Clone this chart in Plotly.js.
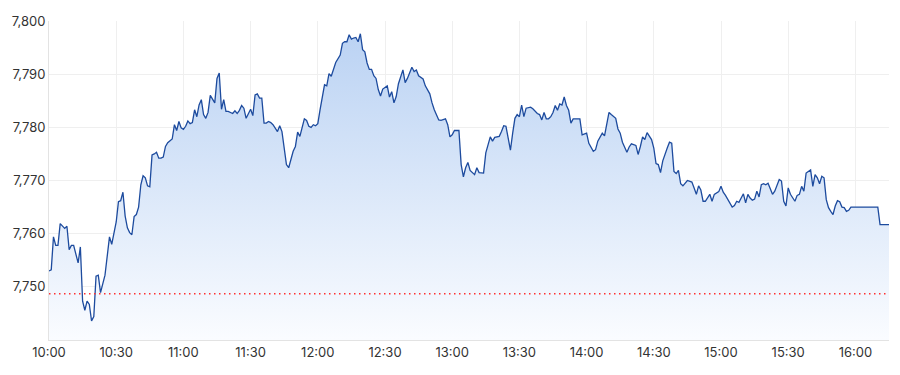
<!DOCTYPE html>
<html>
<head>
<meta charset="utf-8">
<script src="https://cdn.plot.ly/plotly-3.0.1.min.js"></script>
<style>
  html, body { margin: 0; padding: 0; background: #ffffff; }
  #chart { width: 900px; height: 375px; }
</style>
</head>
<body>
<div id="chart"></div>
<script>
const sessionDate = '2024-01-02';

const times = [
"10:00","10:01","10:02","10:03","10:04","10:05","10:07","10:08","10:09","10:10","10:11","10:13","10:14","10:15","10:16","10:17","10:18","10:19","10:20","10:21","10:22","10:23","10:25","10:27","10:28",
"10:30","10:31","10:32","10:33","10:34","10:35","10:36","10:37","10:38","10:39","10:40","10:41","10:42","10:43","10:44","10:45","10:46","10:47","10:48","10:49","10:50","10:51","10:52","10:53","10:54","10:55","10:56","10:57","10:58","10:59",
"11:00","11:01","11:02","11:03","11:04","11:05","11:06","11:07","11:08","11:09","11:10","11:11","11:12","11:13","11:14","11:15","11:16","11:17","11:18","11:19","11:20","11:22","11:23","11:24","11:25","11:26","11:27","11:28","11:29",
"11:30","11:31","11:32","11:33","11:34","11:35","11:36","11:37","11:38","11:39","11:40","11:42","11:43","11:44","11:45","11:46","11:47","11:48","11:49","11:50","11:51","11:52","11:54","11:55","11:56","11:57","11:58","11:59",
"12:00","12:01","12:02","12:03","12:04","12:05","12:06","12:07","12:08","12:10","12:11","12:12","12:13","12:14","12:15","12:16","12:17","12:18","12:19","12:20","12:21","12:22","12:23","12:24","12:25","12:26","12:27","12:28","12:29",
"12:31","12:32","12:33","12:34","12:35","12:36","12:38","12:39","12:40","12:42","12:43","12:44","12:45","12:47","12:48","12:50","12:51","12:52","12:54","12:55","12:57","12:58","12:59",
"13:00","13:01","13:03","13:04","13:05","13:06","13:07","13:08","13:09","13:10","13:11","13:12","13:14","13:15","13:17","13:18","13:19","13:21","13:22","13:23","13:24","13:25","13:26","13:27","13:28","13:29",
"13:30","13:31","13:32","13:33","13:35","13:36","13:38","13:39","13:40","13:41","13:42","13:43","13:44","13:45","13:46","13:47","13:48","13:49","13:50","13:51","13:52","13:53","13:54","13:57","13:58",
"14:00","14:01","14:03","14:04","14:05","14:07","14:08","14:10","14:11","14:13","14:14","14:15","14:16","14:18","14:19","14:20","14:22","14:23","14:24","14:25","14:26","14:27","14:29",
"14:30","14:31","14:32","14:33","14:34","14:36","14:37","14:38","14:39","14:40","14:41","14:42","14:43","14:45","14:47","14:48","14:49","14:50","14:51","14:52","14:53","14:55","14:56","14:57","14:59",
"15:00","15:01","15:02","15:04","15:05","15:06","15:07","15:08","15:09","15:10","15:11","15:12","15:13","15:14","15:15","15:16","15:17","15:18","15:19","15:20","15:21","15:22","15:23","15:24","15:25","15:26","15:27","15:28","15:29",
"15:30","15:31","15:33","15:34","15:35","15:36","15:37","15:38","15:39","15:40","15:41","15:42","15:43","15:44","15:45","15:46","15:47","15:48","15:49","15:50","15:51","15:52","15:53","15:54","15:55","15:56","15:57","15:58",
"16:10","16:11","16:15"
];

const prices = [
7753.0,7753.2,7759.4,7757.8,7757.8,7761.9,7761.0,7761.4,7757.0,7757.8,7757.8,7754.5,7757.5,7747.3,7745.6,7747.3,7746.7,7743.6,7744.4,7752.0,7752.2,7748.9,7752.2,7759.4,7758.0,
7762.2,7766.0,7766.2,7767.8,7763.3,7761.1,7760.2,7759.8,7763.2,7763.6,7765.0,7769.2,7770.9,7770.5,7769.0,7768.8,7774.8,7775.0,7775.3,7774.2,7774.2,7774.4,7776.4,7777.1,7777.4,7777.8,7780.5,7779.4,7781.1,7779.9,
7779.6,7780.2,7781.2,7780.7,7780.9,7783.3,7782.0,7784.2,7785.2,7782.4,7781.7,7782.8,7786.0,7785.2,7784.6,7789.2,7790.2,7783.4,7785.2,7783.0,7783.0,7782.6,7783.1,7782.6,7783.2,7784.1,7783.6,7781.7,7782.7,
7783.4,7782.2,7786.1,7786.3,7785.5,7785.5,7780.8,7780.8,7781.1,7780.9,7780.5,7779.2,7780.3,7779.2,7776.4,7773.0,7772.4,7773.9,7775.5,7776.4,7779.1,7778.3,7781.6,7781.3,7780.2,7780.0,7780.5,7780.3,
7780.7,7783.3,7785.8,7788.0,7787.8,7790.1,7789.6,7790.8,7792.2,7793.6,7795.8,7796.1,7796.1,7797.4,7796.6,7796.8,7796.9,7796.1,7797.6,7794.6,7794.2,7792.1,7790.9,7790.9,7789.7,7789.2,7787.1,7785.9,7787.2,
7787.8,7785.7,7786.7,7784.6,7785.8,7788.2,7790.8,7788.4,7789.2,7791.3,7790.5,7790.8,7789.7,7789.1,7787.8,7786.3,7784.6,7783.3,7781.4,7781.3,7781.6,7780.5,7778.2,
7778.6,7779.4,7779.4,7773.0,7770.7,7772.4,7773.4,7771.9,7771.4,7771.1,7772.4,7771.5,7771.4,7775.2,7778.2,7777.4,7778.1,7778.3,7779.2,7780.3,7780.2,7777.7,7775.7,7778.9,7781.7,7782.4,
7782.0,7784.2,7782.0,7783.6,7783.8,7783.5,7782.6,7782.4,7781.4,7782.8,7781.6,7781.6,7782.0,7782.8,7784.1,7783.2,7784.4,7784.2,7785.7,7784.1,7783.2,7780.8,7781.6,7781.6,7778.6,
7778.9,7777.0,7775.5,7775.8,7777.4,7778.9,7778.4,7782.8,7782.4,7781.7,7779.7,7778.9,7777.2,7775.3,7776.3,7776.9,7776.6,7774.9,7776.4,7778.2,7777.7,7779.0,7777.7,
7776.1,7773.2,7773.0,7771.5,7773.7,7776.1,7777.2,7777.0,7771.7,7771.3,7771.9,7769.4,7769.0,7770.0,7769.7,7768.6,7767.4,7769.0,7768.2,7766.1,7766.1,7767.4,7766.1,7767.4,7767.9,
7768.9,7767.8,7767.2,7765.8,7765.0,7765.3,7766.1,7765.9,7766.7,7767.5,7765.8,7767.4,7766.7,7766.3,7766.5,7768.0,7766.9,7769.2,7769.4,7769.2,7769.5,7768.6,7767.4,7768.0,7769.2,7770.2,7769.9,7766.1,7765.2,
7768.6,7767.4,7766.1,7767.2,7767.4,7768.9,7768.0,7771.4,7771.7,7772.0,7768.9,7771.1,7770.5,7769.4,7770.8,7770.5,7766.4,7764.9,7764.2,7763.6,7765.2,7766.2,7766.0,7765.0,7764.9,7764.2,7764.4,7765.0,
7765.0,7761.7,7761.7
];

const previousClose = 7748.7;
const yTickValues = [7750, 7760, 7770, 7780, 7790, 7800];
const yRange = [7740, 7800];
const xStart = '10:00';
const xEnd = '16:15';

const xs = times.map(t => sessionDate + ' ' + t);

const trace = {
  type: 'scatter',
  mode: 'lines',
  x: xs,
  y: prices,
  line: { color: '#1d4b9e', width: 1.3 },
  fill: 'tozeroy',
  fillgradient: {
    type: 'vertical',
    start: yRange[0],
    stop: 7798,
    colorscale: [[0, 'rgb(250,252,255)'], [1, 'rgb(186,210,243)']]
  },
  hoverinfo: 'skip'
};

const layout = {
  width: 900,
  height: 375,
  margin: { l: 49, r: 11, t: 21, b: 35 },
  paper_bgcolor: '#ffffff',
  plot_bgcolor: '#ffffff',
  showlegend: false,
  font: { family: 'Inter, Roboto, sans-serif', size: 13, color: '#333333' },
  xaxis: {
    type: 'date',
    range: [sessionDate + ' ' + xStart, sessionDate + ' ' + xEnd],
    dtick: 30 * 60 * 1000,
    tick0: sessionDate + ' 10:00',
    tickformat: '%H:%M',
    showgrid: true,
    gridcolor: '#efefef',
    gridwidth: 1,
    showline: true,
    linecolor: '#e3e3e3',
    linewidth: 1,
    ticks: '',
    tickfont: { size: 13, color: '#333333' },
    zeroline: false,
    fixedrange: true
  },
  yaxis: {
    range: yRange,
    tickvals: yTickValues,
    tickformat: ',d',
    showgrid: true,
    gridcolor: '#efefef',
    gridwidth: 1,
    showline: true,
    linecolor: '#e3e3e3',
    linewidth: 1,
    ticks: '',
    tickfont: { size: 13, color: '#333333' },
    zeroline: false,
    fixedrange: true
  },
  shapes: [{
    type: 'line',
    layer: 'above',
    xref: 'paper', x0: 0, x1: 1,
    yref: 'y', y0: previousClose, y1: previousClose,
    line: { color: '#ff3030', width: 1.5, dash: '1.5px,3.5px' }
  }]
};

Plotly.newPlot('chart', [trace], layout, { displayModeBar: false, staticPlot: true });
</script>
</body>
</html>
